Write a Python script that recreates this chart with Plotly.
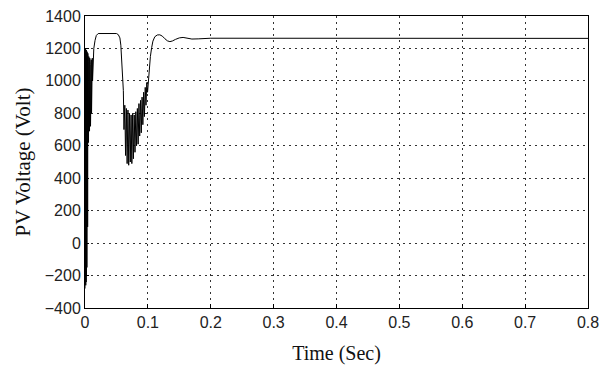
import plotly.graph_objects as go

# PV array voltage during start-up transient (time in s, voltage in V)
t_start = [0.0, 0.0003, 0.0006, 0.0009, 0.0012, 0.0015, 0.0018, 0.0021, 0.0024, 0.0027,
           0.0030, 0.0033, 0.0036, 0.0039, 0.0042, 0.0045, 0.0048,
           0.0052, 0.0056, 0.0060, 0.0064, 0.0068, 0.0072, 0.0076, 0.0080,
           0.0084, 0.0088, 0.0092, 0.0096, 0.0100, 0.0104, 0.0108, 0.0112, 0.0116, 0.0120]
v_start = [-280, 1180, -270, 1200, -260, 1170, -240, 1190, -200, 1160,
           -150, 1180, -60, 1150, 100, 1170, 300,
           1120, 620, 1150, 660, 1130, 690, 1140, 700,
           1100, 720, 1120, 760, 1130, 800, 1110, 850, 1140, 1000]

t_plateau = [0.0127, 0.0140, 0.0160, 0.0180, 0.0210, 0.0500, 0.0530, 0.0555, 0.0570,
             0.0580, 0.0590, 0.0600, 0.0610]
v_plateau = [1150, 1200, 1250, 1280, 1292, 1292, 1285, 1265, 1220,
             1150, 1040, 960, 940]

t_dip = [0.0620, 0.0633, 0.0645, 0.0658, 0.0670, 0.0683, 0.0695, 0.0708, 0.0720,
         0.0733, 0.0745, 0.0758, 0.0770, 0.0783, 0.0795, 0.0808, 0.0820, 0.0833,
         0.0845, 0.0858, 0.0870, 0.0883, 0.0895, 0.0908, 0.0920, 0.0933, 0.0945,
         0.0958, 0.0970, 0.0983, 0.0995, 0.1000]
v_dip = [700, 850, 540, 830, 490, 820, 480, 800, 500, 790,
         490, 800, 520, 790, 560, 810, 600, 830,
         610, 860, 660, 880, 680, 900, 730, 930, 780,
         960, 850, 990, 930, 960]

t_settle = [0.1020, 0.1040, 0.1060, 0.1080, 0.1110, 0.1150, 0.1190, 0.1230, 0.1270,
            0.1310, 0.1350, 0.1390, 0.1440, 0.1500, 0.1560, 0.1620, 0.1700, 0.1800,
            0.1900, 0.2000, 0.8000]
v_settle = [1060, 1150, 1205, 1245, 1272, 1283, 1284, 1276, 1260,
            1247, 1242, 1246, 1256, 1265, 1268, 1264, 1258, 1259,
            1262, 1263, 1262]

time = t_start + t_plateau + t_dip + t_settle
volt = v_start + v_plateau + v_dip + v_settle

x_ticks = [0, 0.1, 0.2, 0.3, 0.4, 0.5, 0.6, 0.7, 0.8]
x_tick_text = ["0", "0.1", "0.2", "0.3", "0.4", "0.5", "0.6", "0.7", "0.8"]
y_ticks = [-400, -200, 0, 200, 400, 600, 800, 1000, 1200, 1400]

fig = go.Figure()
fig.add_trace(go.Scatter(x=time, y=volt, mode="lines",
                         line=dict(color="black", width=1), showlegend=False))

axis_common = dict(
    showline=True, linecolor="black", linewidth=1, mirror=True,
    ticks="inside", ticklen=4, tickcolor="black",
    showgrid=True, gridcolor="#333", gridwidth=1, griddash="2px,4px",
    zeroline=False, automargin=False,
    tickfont=dict(family="Liberation Sans", size=16, color="#222"),
)

fig.update_xaxes(range=[0, 0.8], tickvals=x_ticks, ticktext=x_tick_text,
                 title=dict(text="Time (Sec)", standoff=15,
                            font=dict(family="Liberation Serif", size=20, color="#111")),
                 **axis_common)
fig.update_yaxes(range=[-400, 1400], tickvals=y_ticks,
                 title=dict(text="PV Voltage (Volt)", standoff=8,
                            font=dict(family="Liberation Serif", size=21, color="#111")),
                 **axis_common)

fig.update_layout(
    width=600, height=374,
    margin=dict(l=85, r=12, t=16, b=66),
    paper_bgcolor="white", plot_bgcolor="white",
)

fig.write_html("out.html")
